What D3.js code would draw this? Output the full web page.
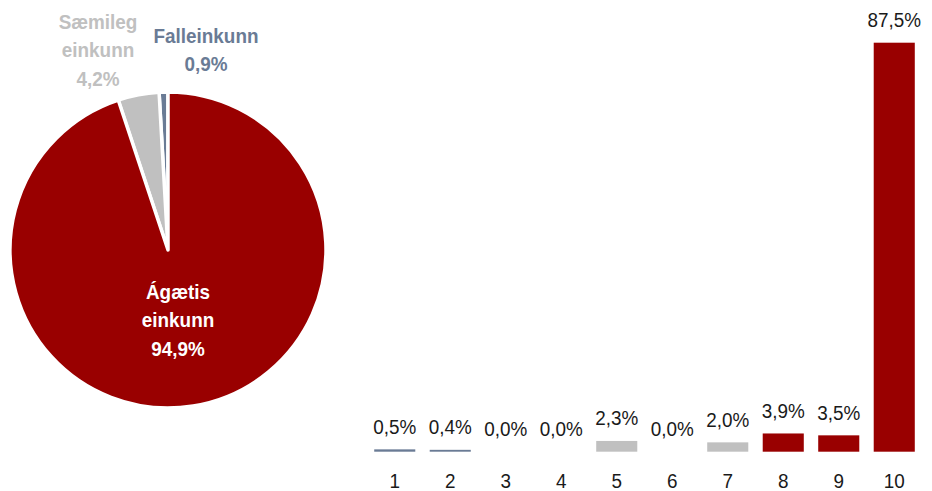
<!DOCTYPE html>
<html><head><meta charset="utf-8">
<script src="https://cdn.jsdelivr.net/npm/d3@7"></script>
<style>
html,body{margin:0;padding:0;background:#fff;}
svg{display:block;font-family:"Liberation Sans Narrow","Arial Narrow","Liberation Sans",Arial,sans-serif;}
</style></head>
<body>
<svg id="c" width="932" height="491"></svg>
<script>
// Pie data
const pieNames = ["Falleinkunn", "Sæmileg einkunn", "Ágætis einkunn"];
const pieValues = [0.9, 4.2, 94.9];
const pieColors = ["#6a7b95", "#c0c0c0", "#990000"];
const pieLabelText = ["0,9%", "4,2%", "94,9%"];

// Bar data
const barCategories = ["1","2","3","4","5","6","7","8","9","10"];
const barValues = [0.5, 0.4, 0.0, 0.0, 2.3, 0.0, 2.0, 3.9, 3.5, 87.5];
const barColorGroup = [0, 0, 0, 0, 1, 1, 1, 2, 2, 2];
const barLabels = ["0,5%","0,4%","0,0%","0,0%","2,3%","0,0%","2,0%","3,9%","3,5%","87,5%"];

const SX = 0.9; // horizontal condensing to mimic a narrow face
const svg = d3.select("#c");

// ---- Pie ----
const cx = 168, cy = 250, R = 158;
const pie = d3.pie().sort(null).value(d => d)
  .startAngle(0).endAngle(-2 * Math.PI);
const arcs = pie(pieValues);
const arc = d3.arc().innerRadius(0).outerRadius(R);
const g = svg.append("g").attr("transform", `translate(${cx},${cy})`);
g.selectAll("path").data(arcs).join("path")
  .attr("d", arc)
  .attr("fill", (d, i) => pieColors[i])
  .attr("stroke", "#fff")
  .attr("stroke-width", 3.5)
  .attr("stroke-linejoin", "round");

// pie labels
const pieLabelPos = [
  {x: 206, y: 43, lines: ["Falleinkunn", pieLabelText[0]], color: pieColors[0]},
  {x: 98, y: 29, lines: ["Sæmileg", "einkunn", pieLabelText[1]], color: pieColors[1]},
  {x: 178, y: 299, lines: ["Ágætis", "einkunn", pieLabelText[2]], color: "#ffffff"}
];
pieLabelPos.forEach(p => {
  const t = svg.append("text")
    .attr("transform", `translate(${p.x},${p.y}) scale(${SX},1)`)
    .attr("text-anchor", "middle")
    .attr("font-weight", "bold")
    .attr("font-size", 21)
    .attr("fill", p.color);
  p.lines.forEach((l, i) => {
    t.append("tspan").attr("x", 0).attr("dy", i === 0 ? 0 : 28.5).text(l);
  });
});

// ---- Bars ----
const x = d3.scaleBand().domain(barCategories).range([367, 922])
  .paddingInner(0.26).paddingOuter(0.13);
const y = d3.scaleLinear().domain([0, 87.5]).range([451.7, 42.7]);
const barFill = ["#6a7b95", "#c0c0c0", "#990000"];

svg.append("g").selectAll("rect").data(barValues).join("rect")
  .attr("x", (d, i) => x(barCategories[i]))
  .attr("width", x.bandwidth())
  .attr("y", d => y(d))
  .attr("height", d => y(0) - y(d))
  .attr("fill", (d, i) => barFill[barColorGroup[i]]);

svg.append("g").selectAll("text").data(barValues).join("text")
  .attr("transform", (d, i) => `translate(${x(barCategories[i]) + x.bandwidth() / 2},${y(d) - 15.5}) scale(${SX},1)`)
  .attr("text-anchor", "middle")
  .attr("font-size", 21)
  .attr("fill", "#1a1a1a")
  .text((d, i) => barLabels[i]);

const xAxis = d3.axisBottom(x).tickSize(0).tickPadding(0);
const ax = svg.append("g").attr("transform", "translate(0,452)").call(xAxis);
ax.select(".domain").remove();
ax.selectAll("text")
  .attr("font-family", "\"Liberation Sans Narrow\",\"Arial Narrow\",\"Liberation Sans\",Arial,sans-serif")
  .attr("font-size", 21)
  .attr("fill", "#1a1a1a")
  .attr("dy", null)
  .attr("y", 0)
  .attr("transform", `translate(0,36) scale(${SX},1)`);
</script>
</body></html>
